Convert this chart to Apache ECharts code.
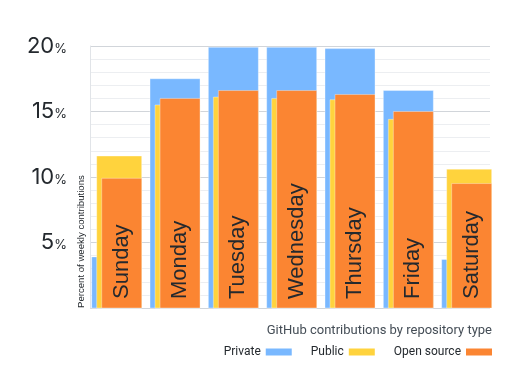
<!DOCTYPE html>
<html>
<head>
<meta charset="utf-8">
<script src="https://cdn.jsdelivr.net/npm/echarts@6/dist/echarts.min.js"></script>
<style>html,body{margin:0;padding:0;background:#fff}#c{width:522px;height:391px}</style>
</head>
<body>
<div id="c"></div>
<script>
const categories = ['Sunday','Monday','Tuesday','Wednesday','Thursday','Friday','Saturday'];
const privateValues = [3.9, 17.5, 19.9, 19.9, 19.8, 16.6, 3.7];
const publicValues = [11.6, 15.5, 16.1, 16.0, 15.9, 14.4, 10.6];
const openSourceValues = [9.9, 16.0, 16.6, 16.6, 16.3, 15.0, 9.5];
const yTicks = [5, 10, 15, 20];

const COLORS = {priv: '#79b8ff', pub: '#ffd33d', open: '#fb8532'};

// bar placement inside each category band (fraction of band width)
function makeRender(leftFrac, rightFrac, color, withLabel) {
  return function (params, api) {
    const idx = api.value(0);
    const val = api.value(1);
    const base = api.coord([idx, 0]);
    const top = api.coord([idx, val]);
    const bw = api.size([1, 0])[0];
    const bandStart = base[0] - bw / 2;
    const x0 = bandStart + bw * leftFrac;
    const x1 = bandStart + bw * rightFrac;
    const children = [{
      type: 'rect',
      shape: {x: x0, y: top[1], width: x1 - x0, height: base[1] - top[1]},
      style: {fill: color, stroke: 'rgba(255,255,255,0.35)', lineWidth: 1}
    }];
    if (withLabel) {
      children.push({
        type: 'text',
        x: (x0 + x1) / 2,
        y: base[1] - 9,
        rotation: Math.PI / 2,
        style: {
          text: categories[idx],
          textAlign: 'left',
          textVerticalAlign: 'middle',
          fill: '#24292e',
          font: '22px "Liberation Sans", Arial, sans-serif'
        }
      });
    }
    return {type: 'group', children: children};
  };
}

function toData(arr) { return arr.map((v, i) => [i, v]); }

const chart = echarts.init(document.getElementById('c'), null, {renderer: 'canvas'});
chart.setOption({
  animation: false,
  title: {
    text: 'GitHub contributions by repository type',
    right: 30,
    top: 324,
    padding: 0,
    textStyle: {fontSize: 13, fontWeight: 'normal', color: '#444d56', fontFamily: 'Roboto'}
  },
  legend: {
    data: [
      {name: 'Private', icon: 'rect'},
      {name: 'Public', icon: 'rect'},
      {name: 'Open source', icon: 'rect'}
    ],
    align: 'right',
    right: 30,
    top: 346,
    padding: 0,
    itemWidth: 26,
    itemHeight: 7,
    itemGap: 19,
    textStyle: {fontSize: 12, color: '#24292e', fontFamily: 'Roboto'}
  },
  graphic: [{
    type: 'text',
    x: 81,
    y: 308,
    rotation: Math.PI / 2,
    style: {
      text: 'Percent of weekly contributions',
      textAlign: 'left',
      textVerticalAlign: 'middle',
      fill: '#24292e',
      font: '9.6px "Liberation Sans", Arial, sans-serif'
    }
  }],
  grid: [
    {left: 90, right: 32, top: 46, bottom: 83},
    {left: 90, right: 23.7, top: 46, bottom: 83}
  ],
  xAxis: [
    {type: 'category', gridIndex: 0, data: categories, show: false},
    {type: 'category', gridIndex: 1, data: categories, show: false}
  ],
  yAxis: [
    {
      type: 'value', gridIndex: 0, min: 0, max: 20, interval: 5,
      axisLine: {show: true, lineStyle: {color: '#e1e4e8', width: 1}},
      axisTick: {show: false},
      splitLine: {show: true, lineStyle: {color: '#d1d5da', width: 1}},
      minorTick: {show: false, splitNumber: 5},
      minorSplitLine: {show: true, lineStyle: {color: '#eceef1', width: 1}},
      axisLabel: {
        margin: 23,
        formatter: function (v) { return yTicks.indexOf(v) >= 0 ? '{a|' + v + '}{b|%}' : ''; },
        rich: {
          a: {fontSize: 22, color: '#24292e', fontFamily: 'Inter'},
          b: {fontSize: 13, color: '#24292e', fontFamily: 'Inter', padding: [6, 0, 0, 0]}
        }
      }
    },
    {type: 'value', gridIndex: 1, min: 0, max: 20, show: false, splitLine: {show: false}}
  ],
  series: [
    {
      name: 'Private', type: 'custom', xAxisIndex: 1, yAxisIndex: 1,
      itemStyle: {color: COLORS.priv},
      renderItem: makeRender(1.7 / 58.33, 51.7 / 58.33, COLORS.priv, false),
      data: toData(privateValues)
    },
    {
      name: 'Public', type: 'custom', xAxisIndex: 1, yAxisIndex: 1,
      itemStyle: {color: COLORS.pub},
      renderItem: makeRender(6.7 / 58.33, 51.7 / 58.33, COLORS.pub, false),
      data: toData(publicValues)
    },
    {
      name: 'Open source', type: 'custom', xAxisIndex: 1, yAxisIndex: 1,
      itemStyle: {color: COLORS.open},
      renderItem: makeRender(11.7 / 58.33, 51.7 / 58.33, COLORS.open, true),
      data: toData(openSourceValues)
    }
  ]
});
</script>
</body>
</html>
